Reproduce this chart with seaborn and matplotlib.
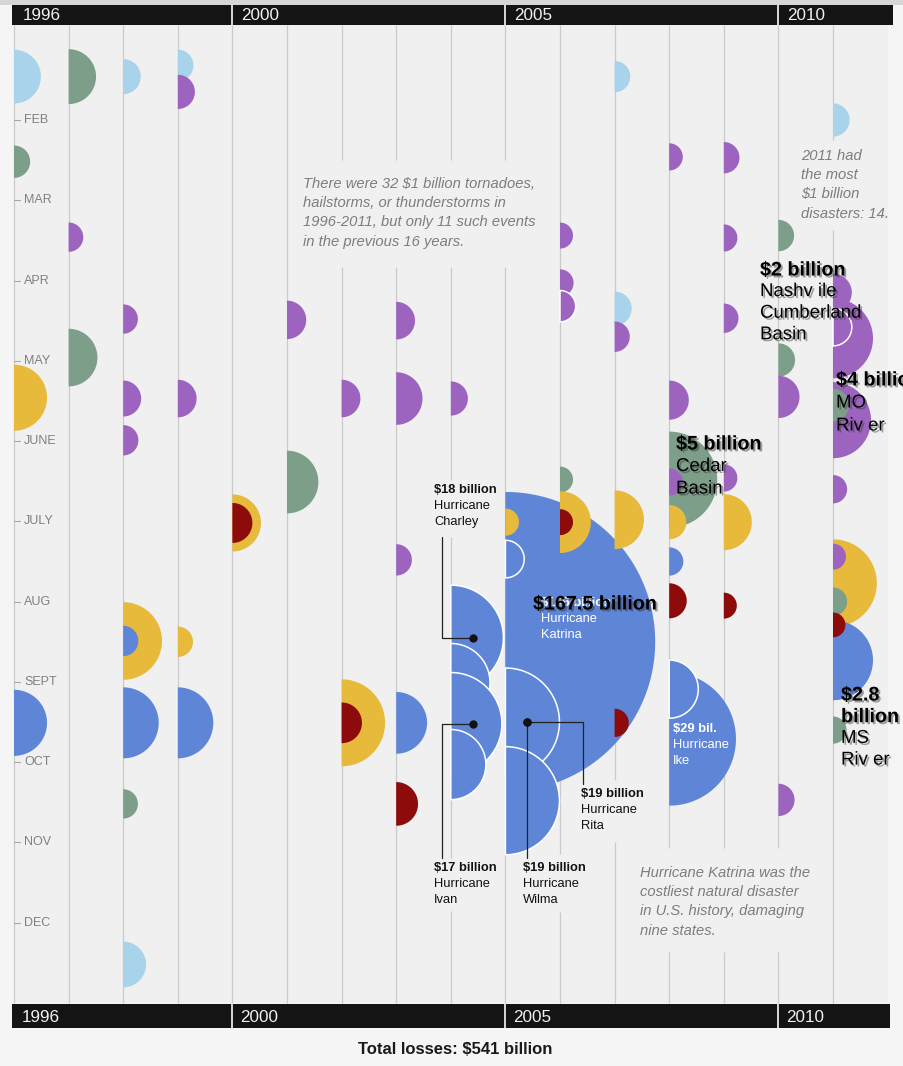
import numpy as np
import pandas as pd
import matplotlib
matplotlib.use("Agg")
import matplotlib.pyplot as plt
import matplotlib.patheffects as pe
from matplotlib.path import Path
from matplotlib.patches import Rectangle
import seaborn as sns

# --- Data: $1 billion+ disasters (drawing order) ---
years = ([1996] * 4 + [1997] * 3 + [1998] * 9 + [1999] * 5 + [2000] * 2 + [2001] * 2
         + [2002] * 3 + [2003] * 5 + [2004] * 5 + [2005] * 5 + [2006] * 6 + [2007] * 5
         + [2008] * 9 + [2009] * 6 + [2010] * 4 + [2011] * 13)

# month position (1 = Jan 1, 13 = end of Dec)
months = [1.46, 2.52, 5.46, 9.51,
          1.46, 3.46, 4.96,
          1.46, 4.48, 5.47, 5.99, 8.49, 8.49, 9.51, 10.52, 12.52,
          1.32, 1.65, 5.47, 8.50, 9.51,
          7.02, 7.02,
          4.49, 6.51,
          5.47, 9.51, 9.51,
          4.50, 5.47, 7.48, 9.51, 10.52,
          5.47, 8.45, 9.01, 9.52, 10.03,
          8.50, 7.01, 7.47, 9.50, 10.48,
          3.44, 4.03, 4.32, 6.48, 7.01, 7.01,
          1.46, 4.35, 4.70, 6.98, 9.51,
          2.46, 5.49, 6.48, 6.51, 7.01, 7.50, 7.99, 9.71, 9.09,
          2.47, 3.47, 4.47, 6.46, 7.01, 8.05,
          3.44, 4.99, 5.45, 10.47,
          2.00, 5.74, 4.72, 4.15, 4.58, 5.55, 6.60, 7.77, 7.44, 8.00, 8.73, 8.29, 9.60]

# losses in $ billions (circle area)
losses = [4.7, 1.7, 7.1, 7.1,
          4.9, 1.4, 5.4,
          2.0, 1.4, 2.1, 1.5, 9.8, 1.5, 8.2, 1.4, 3.4,
          1.6, 1.9, 2.3, 1.5, 8.2,
          5.3, 2.6,
          2.4, 6.4,
          2.3, 12.3, 2.7,
          2.3, 4.5, 1.6, 6.2, 3.1,
          1.9, 18, 10, 17, 8,
          146, 1.2, 2.3, 19, 19,
          1.1, 1.2, 1.6, 1.1, 6.2, 1.1,
          1.6, 1.9, 1.5, 5.6, 1.3,
          1.2, 2.5, 15, 1.2, 1.9, 1.3, 2.0, 29, 5.5,
          1.6, 1.2, 1.4, 1.2, 5.1, 1.1,
          1.6, 1.8, 2.9, 1.7,
          1.8, 9.4, 10.4, 2.3, 2.3, 1.7, 1.3, 12.5, 1.1, 1.3, 10.4, 1.0, 1.2]

kinds = ["winter", "flood", "drought", "hurricane",
         "flood", "severe", "flood",
         "winter", "severe", "severe", "severe", "drought", "hurricane", "hurricane", "flood", "winter",
         "winter", "severe", "severe", "drought", "hurricane",
         "drought", "wildfire",
         "severe", "flood",
         "severe", "drought", "wildfire",
         "severe", "severe", "severe", "hurricane", "wildfire",
         "severe", "hurricane", "hurricane", "hurricane", "hurricane",
         "hurricane", "drought", "hurricane", "hurricane", "hurricane",
         "severe", "severe", "severe", "flood", "drought", "wildfire",
         "winter", "winter", "severe", "drought", "wildfire",
         "severe", "severe", "flood", "severe", "drought", "hurricane", "wildfire", "hurricane", "hurricane",
         "severe", "severe", "severe", "severe", "drought", "wildfire",
         "flood", "flood", "severe", "severe",
         "winter", "severe", "severe", "severe", "severe", "flood", "severe", "drought", "severe",
         "flood", "hurricane", "wildfire", "flood"]

outlined = [0, 0, 0, 0,
            0, 0, 0,
            0, 0, 0, 0, 0, 0, 0, 0, 0,
            0, 0, 0, 0, 0,
            0, 0,
            0, 0,
            0, 0, 0,
            0, 0, 0, 0, 0,
            0, 1, 1, 1, 1,
            0, 0, 1, 1, 1,
            0, 0, 1, 0, 0, 0,
            0, 0, 0, 0, 0,
            0, 0, 0, 0, 0, 0, 0, 0, 1,
            0, 0, 0, 0, 0, 0,
            0, 0, 0, 0,
            0, 0, 0, 0, 1, 0, 0, 0, 0, 0, 0, 0, 0]

kind_colors = {"winter": "#a8d3ea", "flood": "#7d9e89", "severe": "#9c63bf",
               "drought": "#e8ba3c", "hurricane": "#5f86d6", "wildfire": "#8e0b0b"}

month_names = ["FEB", "MAR", "APR", "MAY", "JUNE", "JULY", "AUG", "SEPT", "OCT", "NOV", "DEC"]
band_years = [1996, 2000, 2005, 2010]

# storms with callouts: name -> (year, loss)
callouts = {"Charley": (2004, 18), "Ivan": (2004, 17), "Rita": (2005, 19), "Wilma": (2005, 19)}

# gaps in the column rules where notes sit (month units)
line_gaps = {2002: [(2.50, 3.83)], 2003: [(2.50, 3.83)],
             2004: [(2.50, 3.83), (6.48, 7.19), (11.19, 11.86)],
             2005: [(2.50, 3.83)], 2006: [(11.15, 11.87)], 2007: [(10.22, 10.99)],
             2008: [(11.07, 12.36)], 2009: [(11.07, 12.36)], 2010: [(11.07, 12.36)],
             2011: [(2.25, 3.37)]}

df = pd.DataFrame({"year": years, "month": months, "loss": losses,
                   "kind": kinds, "outlined": outlined})

# --- Styling ---
sns.set_style("white")
plt.rcParams["font.family"] = ["Liberation Sans", "DejaVu Sans"]

W, H = 904, 1066
fig = plt.figure(figsize=(W / 100, H / 100), dpi=100, facecolor="#f5f5f5")
top_month = 1 - (39.7 - 25) / 80.3
ax = fig.add_axes([14 / W, (H - 1003) / H, (887.6 - 14) / W, (1003 - 25) / H])
ax.set_facecolor("#f0f0f0")

# column rules
for yr in range(1996, 2012):
    start = top_month
    for g0, g1 in line_gaps.get(yr, []):
        ax.vlines(yr, start, g0, color="#cacaca", lw=0.9, zorder=1, clip_on=False)
        start = g1
    ax.vlines(yr, start, 13, color="#cacaca", lw=0.9, zorder=1, clip_on=False)

# half-disc marker, flat side on the column rule
t = np.linspace(-np.pi / 2, np.pi / 2, 80)
verts = np.column_stack([np.cos(t), np.sin(t)])
half_disc = Path(np.vstack([verts, verts[:1]]), closed=True)

# area per $1 billion in points^2 (radius ~12.4 px per sqrt($bn))
s_per_bn = (12.4 * 72 / 50) ** 2
sns.scatterplot(data=df, x="year", y="month", hue="kind", size="loss",
                palette=kind_colors, sizes=(0, s_per_bn * 146), size_norm=(0, 146),
                marker=half_disc,
                edgecolor=["white" if o else "none" for o in outlined],
                linewidth=[1.1 if o else 0 for o in outlined],
                legend=False, ax=ax, zorder=3)

ax.set_xlim(1996, 2012)
ax.set_ylim(13, top_month)
ax.set_xticks([])
ax.set_yticks([])
ax.set_xlabel("")
ax.set_ylabel("")
for s in ax.spines.values():
    s.set_visible(False)

# --- Overlay in pixel coordinates for bands and annotations ---
ov = fig.add_axes([0, 0, 1, 1], facecolor="none")
ov.set_xlim(0, W)
ov.set_ylim(H, 0)
ov.axis("off")


def to_px(year, month):
    dx, dy = ax.transData.transform((year, month))
    return dx, H - dy


ov.add_patch(Rectangle((0, 0), W, 5, color="#d6d6d6", lw=0))
ov.add_patch(Rectangle((12.5, 5), 880.5, 19.5, color="#141414", lw=0))
ov.add_patch(Rectangle((12.5, 1004), 877.5, 23.5, color="#141414", lw=0))
for yr in band_years:
    bx, _ = to_px(yr, 1)
    if yr != 1996:
        ov.vlines(bx, 5, 24.5, color="#e8e8e8", lw=1.3)
        ov.vlines(bx, 1004, 1027.5, color="#e8e8e8", lw=1.3)
    ov.text(bx + 9, 15, str(yr), color="#f0f0f0", fontsize=12.3, va="center")
    ov.text(bx + 8, 1017, str(yr), color="#f0f0f0", fontsize=12.3, va="center")

for i, name in enumerate(month_names):
    mx, my = to_px(1996, i + 2)
    ov.plot([mx, mx + 6], [my, my], color="#a8a8a8", lw=0.8)
    ov.text(mx + 10, my, name, color="#808080", fontsize=9, va="center")

note_kw = dict(color="#7d7d7d", fontsize=10.6, style="italic", va="top", linespacing=1.47)
ov.text(303, 177, "There were 32 $1 billion tornadoes,\nhailstorms, or thunderstorms in\n"
        "1996-2011, but only 11 such events\nin the previous 16 years.", **note_kw)
ov.text(801, 149, "2011 had\nthe most\n$1 billion\ndisasters: 14.", **note_kw)
ov.text(640, 866, "Hurricane Katrina was the\ncostliest natural disaster\n"
        "in U.S. history, damaging\nnine states.", **note_kw)

ov.text(455, 1050, "Total losses: $541 billion", fontsize=12, fontweight="bold",
        color="#1a1a1a", ha="center", va="center")


def small_label(x, y, head, rest, color):
    ov.text(x, y, head, fontsize=9.3, fontweight="bold", color=color, va="top")
    for i, line in enumerate(rest):
        ov.text(x, y + (i + 1) * 15.8, line, fontsize=9.3, color=color, va="top")


small_label(434, 484, "$18 billion", ["Hurricane", "Charley"], "#111111")
small_label(434, 862, "$17 billion", ["Hurricane", "Ivan"], "#111111")
small_label(523, 862, "$19 billion", ["Hurricane", "Wilma"], "#111111")
small_label(581, 788, "$19 billion", ["Hurricane", "Rita"], "#111111")
small_label(541, 597, "$146 billion", ["Hurricane", "Katrina"], "white")
small_label(673, 723, "$29 bil.", ["Hurricane", "Ike"], "white")

# leader lines with dots on the storms
dots = {}
for name, (yr, val) in callouts.items():
    row = df[(df["year"] == yr) & (df["loss"] == val)].iloc[0]
    cx, cy = to_px(row["year"], row["month"])
    dots[name] = (cx, cy)
    ov.plot(cx + 22, cy, "o", color="#111111", ms=5, zorder=5)

lead = dict(color="#222222", lw=0.9, zorder=4)
cx, cy = dots["Charley"]
ov.plot([cx + 22, cx - 9, cx - 9], [cy, cy, 537], **lead)
cx, cy = dots["Ivan"]
ov.plot([cx + 22, cx - 9, cx - 9], [cy, cy, 858], **lead)
cx, cy = dots["Rita"]
ov.plot([cx + 22, 583, 583], [cy, cy, 784], **lead)
cx, cy = dots["Wilma"]
ov.plot([cx + 22, cx + 22], [cy, 858], **lead)

# pasted-on labels with drop shadow
shadow = [pe.SimplePatchShadow(offset=(1.4, -1.4), shadow_rgbFace="#333333", alpha=0.45), pe.Normal()]


def pasted(x, y, lines, n_bold, step):
    for i, line in enumerate(lines):
        bold = i < n_bold
        ov.text(x, y + i * step, line, fontsize=14.2 if bold else 13.4, color="black",
                va="center", fontweight="bold" if bold else "normal", path_effects=shadow)


pasted(533, 604, ["$167.5 billion"], 1, 0)
pasted(676, 444, ["$5 billion", "Cedar", "Basin"], 1, 22.5)
pasted(760, 270, ["$2 billion", "Nashv ile", "Cumberland", "Basin"], 1, 21.6)
pasted(836, 380, ["$4 billion", "MO", "Riv er"], 1, 23)
pasted(841, 695, ["$2.8", "billion", "MS", "Riv er"], 2, 21.7)

fig.savefig("out.png", dpi=100, facecolor=fig.get_facecolor())
